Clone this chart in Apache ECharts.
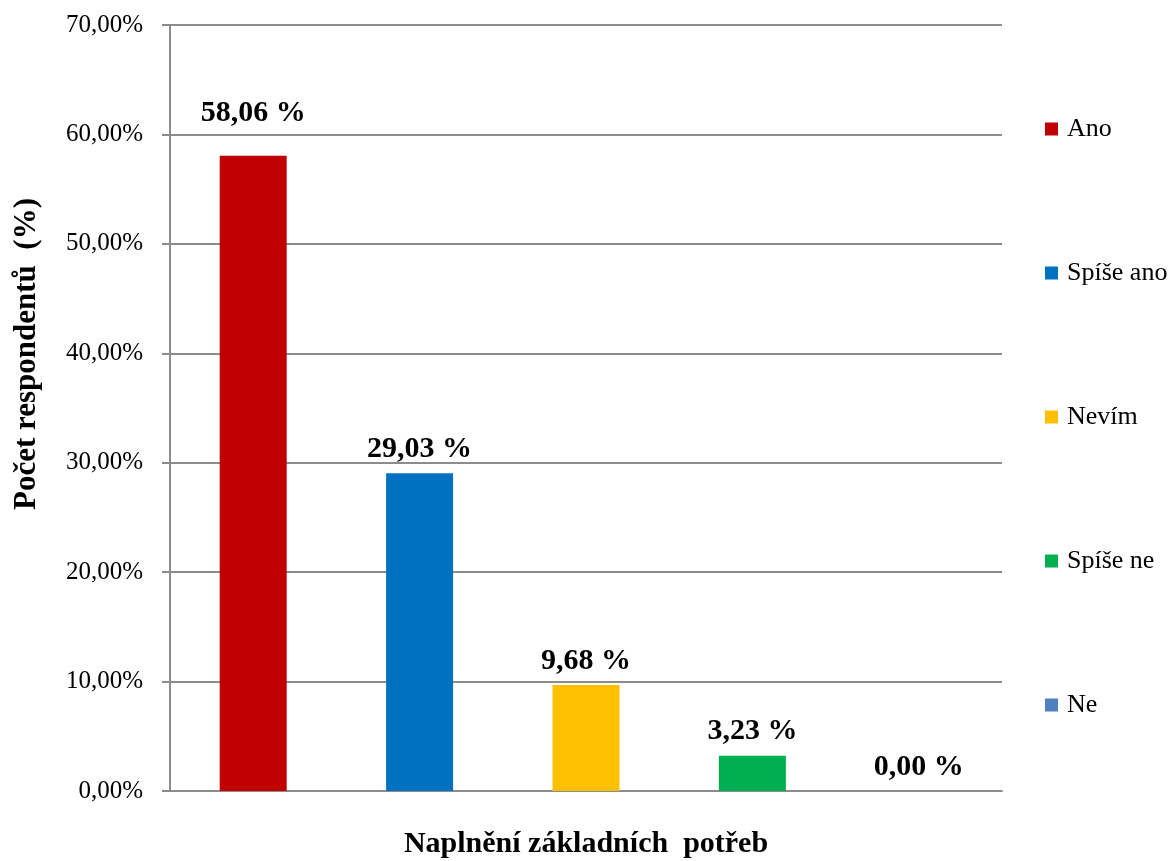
<!DOCTYPE html>
<html>
<head>
<meta charset="utf-8">
<title>Naplnění základních potřeb</title>
<script src="https://cdn.jsdelivr.net/npm/echarts@6/dist/echarts.min.js"></script>
<style>
  html, body { margin: 0; padding: 0; background: #ffffff; }
  #chart { width: 1172px; height: 861px; }
</style>
</head>
<body>
<div id="chart"></div>
<script>
// Answer categories and share of respondents (%)
const categories = ['Ano', 'Spíše ano', 'Nevím', 'Spíše ne', 'Ne'];
const shares = [58.06, 29.03, 9.68, 3.23, 0.00];
const colors = ['#C00000', '#0070C0', '#FFC000', '#00B050', '#4F81BD'];
const yTicks = { min: 0, max: 70, step: 10 };

const FONT = 'Liberation Serif, Times New Roman, serif';
const GRID_COLOR = '#8c8c8c';

const fmtComma = (v) => Number(v).toFixed(2).replace('.', ',');

// One series per answer so each has its own legend entry; all bars overlap
// in the category slot via barGap -100%.
const series = categories.map((name, i) => ({
  name: name,
  type: 'bar',
  barWidth: 67,
  barGap: '-100%',
  itemStyle: { color: colors[i] },
  label: {
    show: true,
    position: 'top',
    distance: i === 0 ? 27 : 9,
    color: '#000',
    fontFamily: FONT,
    fontWeight: 'bold',
    fontSize: 30,
    formatter: (p) => fmtComma(p.value) + ' %'
  },
  data: shares.map((v, j) => (j === i ? v : '-'))
}));

const chart = echarts.init(document.getElementById('chart'), null, { renderer: 'canvas' });
chart.setOption({
  animation: false,
  backgroundColor: '#ffffff',
  grid: { left: 170, right: 170, top: 25, bottom: 70, containLabel: false, outerBoundsMode: 'none' },
  legend: {
    orient: 'vertical',
    left: 1040,
    top: 111,
    itemGap: 118,
    itemWidth: 13,
    itemHeight: 13,
    icon: 'rect',
    selectedMode: false,
    textStyle: {
      fontFamily: FONT,
      fontSize: 26,
      lineHeight: 26,
      color: '#000',
      padding: [0, 0, 0, 4]
    },
    data: categories
  },
  xAxis: {
    type: 'category',
    data: categories,
    name: 'Naplnění základních  potřeb',
    nameLocation: 'middle',
    nameGap: 38,
    nameTextStyle: {
      fontFamily: FONT,
      fontWeight: 'bold',
      fontSize: 30,
      color: '#000'
    },
    axisLine: { show: true, lineStyle: { color: GRID_COLOR, width: 2 } },
    axisTick: { show: false },
    axisLabel: { show: false },
    splitLine: { show: false }
  },
  yAxis: {
    type: 'value',
    min: yTicks.min,
    max: yTicks.max,
    interval: yTicks.step,
    axisLine: { show: true, lineStyle: { color: GRID_COLOR, width: 2 } },
    axisTick: { show: true, inside: false, length: 8, lineStyle: { color: GRID_COLOR, width: 2 } },
    axisLabel: {
      margin: 27,
      fontFamily: FONT,
      fontSize: 25,
      color: '#000',
      formatter: (v) => fmtComma(v) + '%'
    },
    splitLine: { show: true, lineStyle: { color: GRID_COLOR, width: 2 } }
  },
  graphic: [
    {
      type: 'text',
      x: 27,
      y: 354,
      rotation: Math.PI / 2,
      style: {
        text: 'Počet respondentů  (%)',
        fontFamily: FONT,
        fontWeight: 'bold',
        fontSize: 31,
        fill: '#000',
        align: 'center',
        verticalAlign: 'middle'
      }
    }
  ],
  series: series
});
</script>
</body>
</html>
